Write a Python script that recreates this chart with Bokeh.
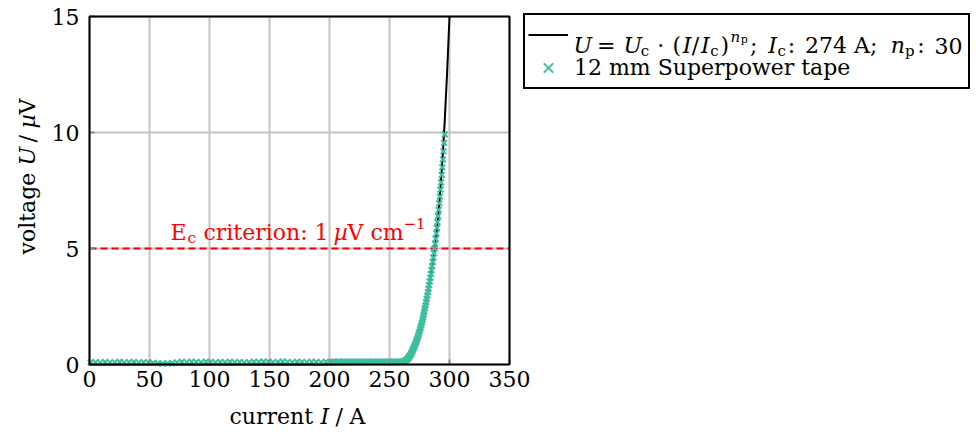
import numpy as np
from bokeh.plotting import figure
from bokeh.models import Label, Legend, LegendItem, FixedTicker, BoxAnnotation, Range1d
from bokeh.embed import file_html
from bokeh.resources import INLINE

# ---------------- data ----------------
x_ticks = [0, 50, 100, 150, 200, 250, 300, 350]
y_ticks = [0, 5, 10, 15]

# measured voltage (µV), section 1: 1 ... 201 A every 4 A
seg1_start, seg1_step = 1.0, 4.0
seg1_voltage = [0.08, 0.10, 0.09, 0.11, 0.09, 0.10, 0.12, 0.09, 0.10, 0.11,
                0.09, 0.10, 0.09, 0.07, 0.05, 0.04, 0.05, 0.06, 0.09, 0.12,
                0.10, 0.12, 0.11, 0.10, 0.12, 0.11, 0.09, 0.11, 0.10, 0.12,
                0.10, 0.11, 0.09, 0.10, 0.12, 0.11, 0.13, 0.12, 0.10, 0.11,
                0.13, 0.11, 0.10, 0.12, 0.11, 0.10, 0.12, 0.11, 0.10, 0.12,
                0.11]
# section 2: 202 ... 259 A every 1 A
seg2_start, seg2_step = 202.0, 1.0
seg2_voltage = [0.10, 0.11, 0.12, 0.11, 0.10, 0.12, 0.11, 0.12,
                0.10, 0.11, 0.12, 0.11, 0.10, 0.12, 0.11, 0.12, 0.11, 0.10,
                0.12, 0.11, 0.12, 0.10, 0.11, 0.12, 0.11, 0.12, 0.11, 0.10,
                0.11, 0.12, 0.11, 0.12, 0.10, 0.11, 0.12, 0.11, 0.12, 0.11,
                0.12, 0.11, 0.10, 0.12, 0.11, 0.12, 0.11, 0.12, 0.10, 0.11,
                0.12, 0.11, 0.12, 0.11, 0.12, 0.11, 0.12, 0.11, 0.12, 0.11]
# section 3: 260 ... 296 A every 0.5 A (transition)
seg3_start, seg3_step = 260.0, 0.5
seg3_voltage = [0.11, 0.11, 0.12, 0.12, 0.13, 0.14, 0.15, 0.17, 0.19, 0.21,
                0.24, 0.27, 0.30, 0.34, 0.38, 0.42, 0.47, 0.52, 0.58, 0.64,
                0.70, 0.76, 0.82, 0.88, 0.95, 1.02, 1.09, 1.17, 1.25, 1.33,
                1.42, 1.51, 1.60, 1.70, 1.81, 1.92, 2.04, 2.16, 2.29, 2.42,
                2.55, 2.69, 2.83, 2.97, 3.12, 3.27, 3.42, 3.58, 3.74, 3.90,
                4.07, 4.24, 4.42, 4.61, 4.80, 5.00, 5.20, 5.42, 5.65, 5.89,
                6.14, 6.40, 6.67, 6.95, 7.24, 7.54, 7.85, 8.17, 8.50, 8.84,
                9.19, 9.55, 9.92]

# power-law fit curve
fit_current = [0, 200, 250, 260, 265, 270, 275, 280, 284, 288, 290, 292, 294, 296, 298, 300]
fit_voltage = [0.0, 0.0, 0.05, 0.15, 0.30, 0.68, 1.35, 2.45, 3.60, 5.00, 6.03, 7.26, 8.72, 10.48, 12.57, 15.0]

ec_voltage = 5.0
series_label = "12 mm Superpower tape"


def sampled(start, step, values):
    return [start + step * i for i in range(len(values))]


meas_current = (sampled(seg1_start, seg1_step, seg1_voltage)
                + sampled(seg2_start, seg2_step, seg2_voltage)
                + sampled(seg3_start, seg3_step, seg3_voltage))
meas_voltage = seg1_voltage + seg2_voltage + seg3_voltage

# ---------------- layout constants (pixels) ----------------
FONT = "DejaVu Serif"
TEAL = "#3cbf9f"
RED = "#ff0000"
GRID = "#c4c4c4"

W, H = 972, 432           # canvas size
PX0, PY0 = 89, 364        # pixel position of (0 A, 0 µV)
XS, YS = 1.2, 23.2        # pixels per A, pixels per µV

p = figure(frame_width=W, frame_height=H,
           x_range=Range1d(-PX0 / XS, (W - PX0) / XS),
           y_range=Range1d(-(H - PY0) / YS, PY0 / YS),
           output_backend="svg", toolbar_location=None,
           min_border_left=0, min_border_right=0, min_border_top=0,
           min_border_bottom=0)
p.background_fill_color = "white"
p.border_fill_color = "white"
p.outline_line_color = None
p.xgrid.visible = False
p.ygrid.visible = False

xt = FixedTicker(ticks=x_ticks)
yt = FixedTicker(ticks=y_ticks)
p.xaxis.ticker = xt
p.yaxis.ticker = yt
p.xaxis.fixed_location = y_ticks[0]
p.yaxis.fixed_location = x_ticks[0]
p.xaxis.bounds = (x_ticks[0], x_ticks[-1])
p.yaxis.bounds = (y_ticks[0], y_ticks[-1])
for ax in (p.xaxis, p.yaxis):
    ax.axis_line_color = None
    ax.major_tick_in = 5
    ax.major_tick_out = 0
    ax.major_tick_line_color = "#8c8c8c"
    ax.major_tick_line_width = 2
    ax.minor_tick_line_color = None
    ax.major_label_text_font = FONT
    ax.major_label_text_font_size = "22px"
    ax.major_label_text_color = "black"
p.xaxis.major_label_standoff = 6
p.yaxis.major_label_standoff = 10

# grid lines (only inside the axes box)
p.segment(x0=x_ticks, x1=x_ticks, y0=[y_ticks[0]] * len(x_ticks),
          y1=[y_ticks[-1]] * len(x_ticks), line_color=GRID, line_width=2)
p.segment(x0=[x_ticks[0]] * len(y_ticks), x1=[x_ticks[-1]] * len(y_ticks),
          y0=y_ticks, y1=y_ticks, line_color=GRID, line_width=2)

# criterion line
p.segment(x0=[x_ticks[0]], x1=[x_ticks[-1]], y0=[ec_voltage], y1=[ec_voltage],
          line_color=RED, line_width=2, line_dash="7 4")

fit_r = p.line(fit_current, fit_voltage, line_color="black", line_width=2)
data_r = p.scatter(meas_current, meas_voltage, marker="x", size=8,
                   line_color=TEAL, line_width=2)

# axes box
p.add_layout(BoxAnnotation(left=x_ticks[0], right=x_ticks[-1],
                           bottom=y_ticks[0], top=y_ticks[-1],
                           fill_color=None, fill_alpha=0,
                           line_color="black", line_width=2, line_alpha=1))

# legend box with glyph samples (transparent so the rich label shows)
LEG_LEFT, LEG_TOP, LEG_H = 523, 17, 72
legend = Legend(items=[LegendItem(label=" ", renderers=[fit_r]),
                       LegendItem(label=series_label, renderers=[data_r])],
                location=(LEG_LEFT, H - LEG_TOP - LEG_H), orientation="vertical",
                border_line_color="black", border_line_width=2, border_line_alpha=1.0,
                background_fill_color=None, background_fill_alpha=0.0,
                padding=3, spacing=0, margin=0,
                glyph_width=40, glyph_height=33, label_height=33,
                label_width=391, label_standoff=6,
                label_text_font=FONT, label_text_font_size="22px",
                label_text_color="black")
p.add_layout(legend)


def at(px, py):
    return (px - PX0) / XS, (PY0 - py) / YS


def rich(px, py, pieces, color="black", angle=0.0, baseline="alphabetic"):
    x, y = at(px, py)
    for text, dx, dy, size, style in pieces:
        p.add_layout(Label(x=x, y=y, x_offset=dx, y_offset=dy, text=text,
                           text_font=FONT, text_font_size=f"{size}px",
                           text_font_style=style, text_color=color,
                           text_align="left", text_baseline=baseline,
                           angle=angle, level="overlay"))


# E_c criterion label
rich(170, 232, [
    ("E", 0, 0, 22, "normal"),
    ("c", 17, -5, 15, "normal"),
    ("criterion: 1", 33, 0, 22, "normal"),
    ("µ", 163, 0, 22, "italic"),
    ("V", 177, 0, 22, "normal"),
    ("cm", 200, 0, 22, "normal"),
    ("−1", 233, 9, 15, "normal"),
], color=RED)

# axis titles
rich(229, 403, [
    ("current", 0, 0, 22, "normal"),
    ("I", 91, 0, 22, "italic"),
    ("/", 106, 0, 22, "normal"),
    ("A", 120, 0, 22, "normal"),
], baseline="top")
rich(27, 254, [
    ("voltage", 0, 0, 22, "normal"),
    ("U", 0, 89, 22, "italic"),
    ("/", 0, 112, 22, "normal"),
    ("µ", 0, 126, 22, "italic"),
    ("V", 0, 140, 22, "normal"),
], angle=np.pi / 2)

# rich legend text for the fit curve
k = 1.02
rich(573, 45, [
    ("U", 0, 0, 22, "italic"),
    ("=", 23 * k, 0, 22, "normal"),
    ("U", 49 * k, 0, 22, "italic"),
    ("c", 66 * k, -5, 15, "normal"),
    ("·", 82 * k, 0, 22, "normal"),
    ("(", 97 * k, 0, 22, "normal"),
    ("I", 107 * k, 0, 22, "italic"),
    ("/", 116 * k, 0, 22, "normal"),
    ("I", 125 * k, 0, 22, "italic"),
    ("c", 134 * k, -5, 15, "normal"),
    (")", 144 * k, 0, 22, "normal"),
    ("n", 154 * k, 9, 15, "italic"),
    ("p", 164 * k, 6, 11, "normal"),
    (";", 173 * k, 0, 22, "normal"),
    ("I", 191 * k, 0, 22, "italic"),
    ("c", 200 * k, -5, 15, "normal"),
    (":", 210 * k, 0, 22, "normal"),
    ("274 A;", 227 * k, 0, 22, "normal"),
    ("n", 311 * k, 0, 22, "italic"),
    ("p", 325 * k, -5, 15, "normal"),
    (":", 337 * k, 0, 22, "normal"),
    ("30", 354 * k, 0, 22, "normal"),
])

open("out.html", "w").write(file_html(p, INLINE))
